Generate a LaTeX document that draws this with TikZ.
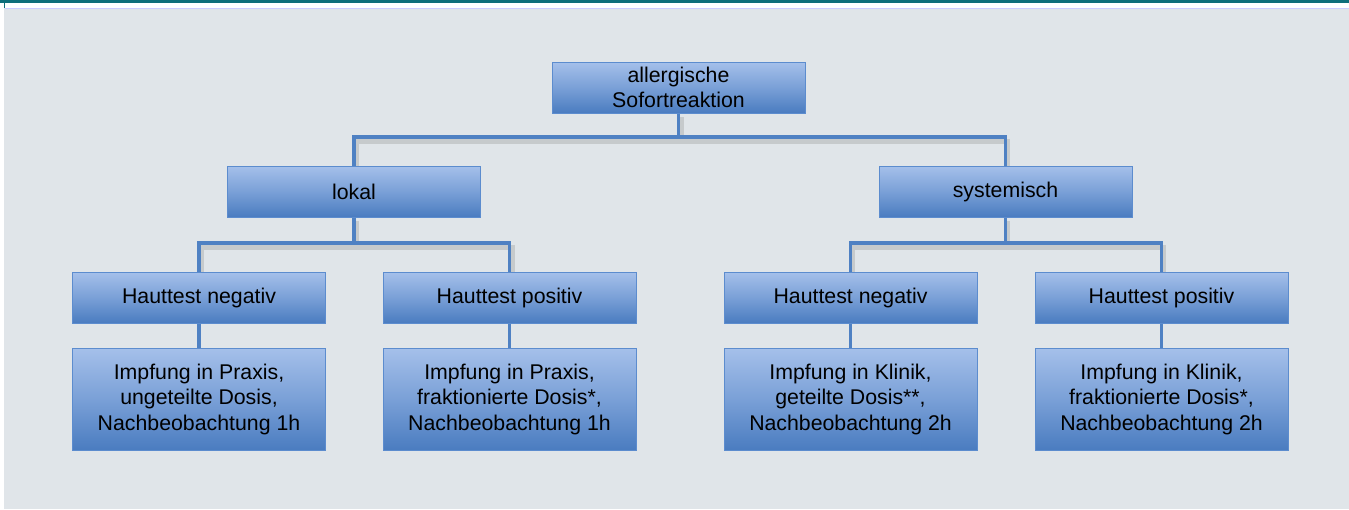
\documentclass[tikz,border=0pt]{standalone}
\usepackage{fontspec}
\setmainfont{Liberation Sans}
\definecolor{bg}{RGB}{224,229,233}
\definecolor{teal}{RGB}{14,110,122}
\definecolor{boxtop}{RGB}{165,192,234}
\definecolor{boxmid}{RGB}{122,160,215}
\definecolor{boxbot}{RGB}{74,124,192}
\definecolor{boxedge}{RGB}{92,140,206}
\definecolor{conn}{RGB}{79,129,195}
\tikzset{
  box/.style={draw=boxedge, line width=1pt, top color=boxtop, bottom color=boxbot, middle color=boxmid,
    minimum width=253pt, inner sep=0pt, align=center,
    font=\fontsize{21.3}{25.5}\selectfont, text=black},
  smallbox/.style={box, minimum height=51pt},
  bigbox/.style={box, minimum height=102pt},
  conline/.style={draw=conn, line width=3.5pt},
  shadowline/.style={draw=black!45, line width=5pt, opacity=0.3}
}
\begin{document}
\begin{tikzpicture}[x=1pt,y=-1pt]
\useasboundingbox (0,0) rectangle (1349,509);
\fill[white] (0,0) rectangle (1349,509);
\fill[teal] (0,0) rectangle (1349,3);
\fill[bg] (4,8) rectangle (1349,509);
\draw[teal, line width=1.2pt] (4.5,3) -- (4.5,8);
\draw[blue!20!white, line width=0.8pt] (5,8.4) -- (1349,8.4);

% junction coordinates
\coordinate (j1) at (679,137);
\coordinate (j2) at (354,243);
\coordinate (j3) at (1005,243);

% shadows of connectors
\begin{scope}[shift={(2,4)}]
\draw[shadowline] (679,113) -- (679,137) (354,166) |- (1005,137) -- (1005,166);
\draw[shadowline] (354,217) -- (354,243) (199,272) |- (510,243) -- (510,272);
\draw[shadowline] (1005,217) -- (1005,243) (850,272) |- (1161,243) -- (1161,272);
\end{scope}

\node[smallbox] (top) at (678.5,87.5) {allergische\\Sofortreaktion};
\node[smallbox] (lokal) at (354,191.5) {lokal};
\node[smallbox] (sys) at (1005.5,191.5) {systemisch};
\node[smallbox] (ln) at (199,297.5) {Hauttest negativ};
\node[smallbox] (lp) at (509.5,297.5) {Hauttest positiv};
\node[smallbox] (sn) at (850.5,297.5) {Hauttest negativ};
\node[smallbox] (sp) at (1161.5,297.5) {Hauttest positiv};
\node[bigbox] (lnb) at (199,399) {Impfung in Praxis,\\ungeteilte Dosis,\\Nachbeobachtung 1h};
\node[bigbox] (lpb) at (509.5,399) {Impfung in Praxis,\\fraktionierte Dosis*,\\Nachbeobachtung 1h};
\node[bigbox] (snb) at (850.5,399) {Impfung in Klinik,\\geteilte Dosis**,\\Nachbeobachtung 2h};
\node[bigbox] (spb) at (1161.5,399) {Impfung in Klinik,\\fraktionierte Dosis*,\\Nachbeobachtung 2h};

% connectors
\draw[conline] (top.south) -- (top.south |- j1);
\draw[conline] (lokal.north) |- (j1) -| (sys.north);
\draw[conline] (lokal.south) -- (lokal.south |- j2);
\draw[conline] (ln.north) |- (j2) -| (lp.north);
\draw[conline] (sys.south) -- (sys.south |- j3);
\draw[conline] (sn.north) |- (j3) -| (sp.north);
\draw[conline] (ln.south) -- (lnb.north);
\draw[conline] (lp.south) -- (lpb.north);
\draw[conline] (sn.south) -- (snb.north);
\draw[conline] (sp.south) -- (spb.north);
\end{tikzpicture}
\end{document}
